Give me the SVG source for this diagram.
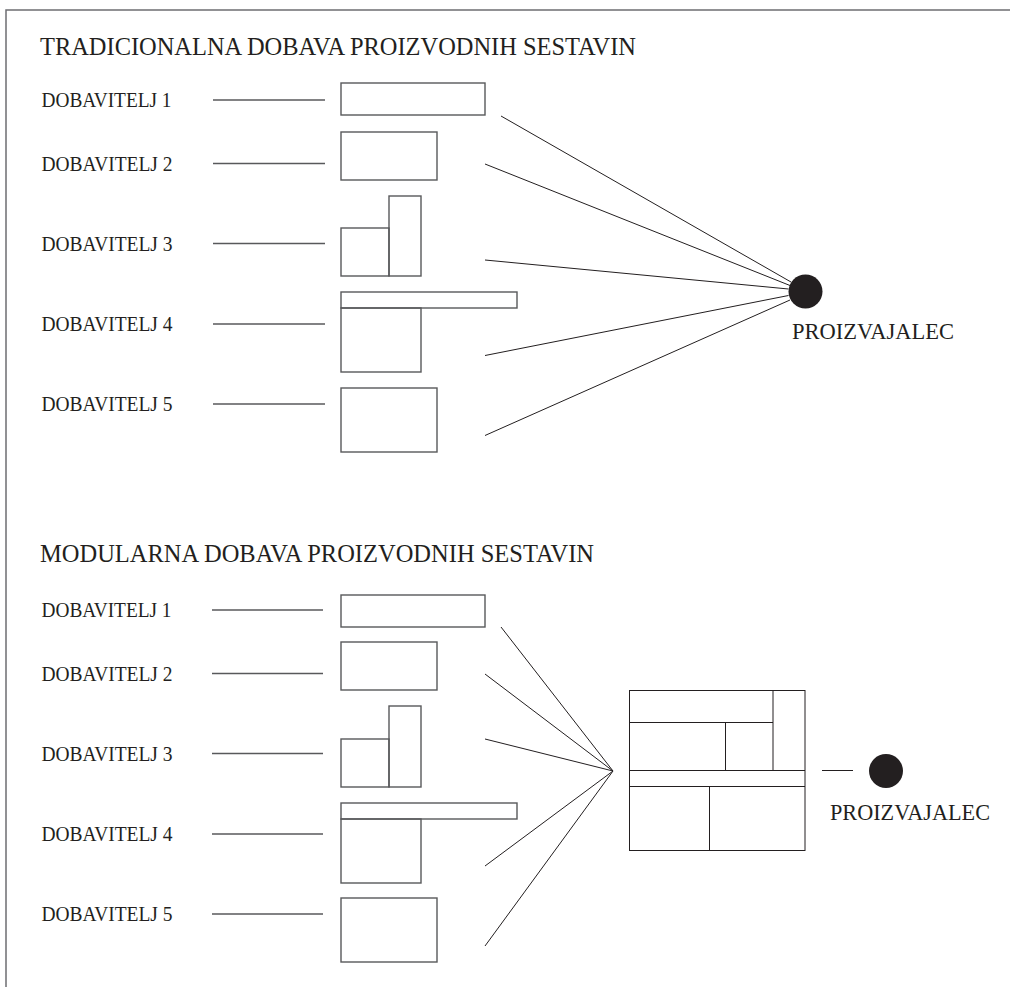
<svg xmlns="http://www.w3.org/2000/svg" width="1010" height="987" viewBox="0 0 1010 987">
<style>
.bg{fill:#ffffff}
.frame{fill:none;stroke:#6d6e71;stroke-width:1.5}
.box{fill:none;stroke:#58595b;stroke-width:1.4}
.tick{fill:none;stroke:#58595b;stroke-width:1.4}
.con{fill:none;stroke:#231f20;stroke-width:1}
.title{font-family:"Liberation Serif","Times New Roman",serif;font-size:25px;fill:#231f20}
.lbl{font-family:"Liberation Serif","Times New Roman",serif;font-size:21px;fill:#231f20}
.mfr{font-family:"Liberation Serif","Times New Roman",serif;font-size:23px;fill:#231f20}
.dot{fill:#231f20}
</style>
<rect class="bg" x="0" y="0" width="1010" height="987"/>
<path class="frame" d="M6,987 V10 H1010"/>

<g id="title-traditional">
<text class="title" x="40" y="54.5" textLength="596" lengthAdjust="spacingAndGlyphs">TRADICIONALNA DOBAVA PROIZVODNIH SESTAVIN</text>
</g>

<g id="t-supplier-1">
<text class="lbl" x="41.5" y="107" textLength="130" lengthAdjust="spacingAndGlyphs">DOBAVITELJ 1</text>
<line class="tick" x1="213" y1="100" x2="325" y2="100"/>
<rect class="box" x="341" y="83" width="144" height="32"/>
</g>
<g id="t-supplier-2">
<text class="lbl" x="41.5" y="170.5" textLength="131" lengthAdjust="spacingAndGlyphs">DOBAVITELJ 2</text>
<line class="tick" x1="213" y1="163.5" x2="325" y2="163.5"/>
<rect class="box" x="341" y="132" width="96" height="48"/>
</g>
<g id="t-supplier-3">
<text class="lbl" x="41.5" y="250.5" textLength="131" lengthAdjust="spacingAndGlyphs">DOBAVITELJ 3</text>
<line class="tick" x1="213" y1="243.5" x2="325" y2="243.5"/>
<rect class="box" x="341" y="228" width="48" height="48"/>
<rect class="box" x="389" y="196" width="32" height="80"/>
</g>
<g id="t-supplier-4">
<text class="lbl" x="41.5" y="331" textLength="131" lengthAdjust="spacingAndGlyphs">DOBAVITELJ 4</text>
<line class="tick" x1="213" y1="324" x2="325" y2="324"/>
<rect class="box" x="341" y="292" width="176" height="16"/>
<rect class="box" x="341" y="308" width="80" height="64"/>
</g>
<g id="t-supplier-5">
<text class="lbl" x="41.5" y="411" textLength="131" lengthAdjust="spacingAndGlyphs">DOBAVITELJ 5</text>
<line class="tick" x1="213" y1="404" x2="325" y2="404"/>
<rect class="box" x="341" y="388" width="96" height="64"/>
</g>

<g id="t-manufacturer">
<circle class="dot" cx="805.5" cy="291.5" r="17"/>
<text class="mfr" x="792" y="338.5" textLength="162" lengthAdjust="spacingAndGlyphs">PROIZVAJALEC</text>
</g>

<g id="title-modular">
<text class="title" x="40" y="561.5" textLength="554" lengthAdjust="spacingAndGlyphs">MODULARNA DOBAVA PROIZVODNIH SESTAVIN</text>
</g>

<g id="m-supplier-1">
<text class="lbl" x="41.5" y="617" textLength="130" lengthAdjust="spacingAndGlyphs">DOBAVITELJ 1</text>
<line class="tick" x1="212" y1="610" x2="323" y2="610"/>
<rect class="box" x="341" y="595" width="144" height="32"/>
</g>
<g id="m-supplier-2">
<text class="lbl" x="41.5" y="680.5" textLength="131" lengthAdjust="spacingAndGlyphs">DOBAVITELJ 2</text>
<line class="tick" x1="212" y1="673.5" x2="323" y2="673.5"/>
<rect class="box" x="341" y="642" width="96" height="48"/>
</g>
<g id="m-supplier-3">
<text class="lbl" x="41.5" y="760.5" textLength="131" lengthAdjust="spacingAndGlyphs">DOBAVITELJ 3</text>
<line class="tick" x1="212" y1="753.5" x2="323" y2="753.5"/>
<rect class="box" x="341" y="739" width="48" height="48"/>
<rect class="box" x="389" y="706" width="32" height="81"/>
</g>
<g id="m-supplier-4">
<text class="lbl" x="41.5" y="841" textLength="131" lengthAdjust="spacingAndGlyphs">DOBAVITELJ 4</text>
<line class="tick" x1="212" y1="834" x2="323" y2="834"/>
<rect class="box" x="341" y="803" width="176" height="16"/>
<rect class="box" x="341" y="819" width="80" height="64"/>
</g>
<g id="m-supplier-5">
<text class="lbl" x="41.5" y="921" textLength="131" lengthAdjust="spacingAndGlyphs">DOBAVITELJ 5</text>
<line class="tick" x1="212" y1="914" x2="323" y2="914"/>
<rect class="box" x="341" y="898" width="96" height="64"/>
</g>

<g id="m-module">
<rect class="con" x="629.5" y="690.5" width="175.5" height="160"/>
<line class="con" x1="629.5" y1="722.5" x2="773" y2="722.5"/>
<line class="con" x1="773" y1="690.5" x2="773" y2="770.5"/>
<line class="con" x1="725.5" y1="722.5" x2="725.5" y2="770.5"/>
<line class="con" x1="629.5" y1="770.5" x2="805" y2="770.5"/>
<line class="con" x1="629.5" y1="786.5" x2="805" y2="786.5"/>
<line class="con" x1="709.5" y1="786.5" x2="709.5" y2="850.5"/>
</g>

<g id="m-manufacturer">
<circle class="dot" cx="886" cy="771" r="17"/>
<text class="mfr" x="830" y="820" textLength="160" lengthAdjust="spacingAndGlyphs">PROIZVAJALEC</text>
</g>

<g id="connectors">
<line class="con" x1="501" y1="116" x2="791" y2="282"/>
<line class="con" x1="485" y1="164" x2="790" y2="285.5"/>
<line class="con" x1="485" y1="260" x2="788.5" y2="289"/>
<line class="con" x1="485" y1="355.5" x2="788.5" y2="295.5"/>
<line class="con" x1="485" y1="435.5" x2="790" y2="300"/>
<line class="con" x1="501" y1="627" x2="613" y2="771"/>
<line class="con" x1="485" y1="674" x2="613" y2="771"/>
<line class="con" x1="485" y1="739" x2="613" y2="771"/>
<line class="con" x1="485" y1="866" x2="613" y2="771"/>
<line class="con" x1="485" y1="946" x2="613" y2="771"/>
<line class="con" x1="822" y1="770.5" x2="853" y2="770.5"/>
</g>
</svg>
